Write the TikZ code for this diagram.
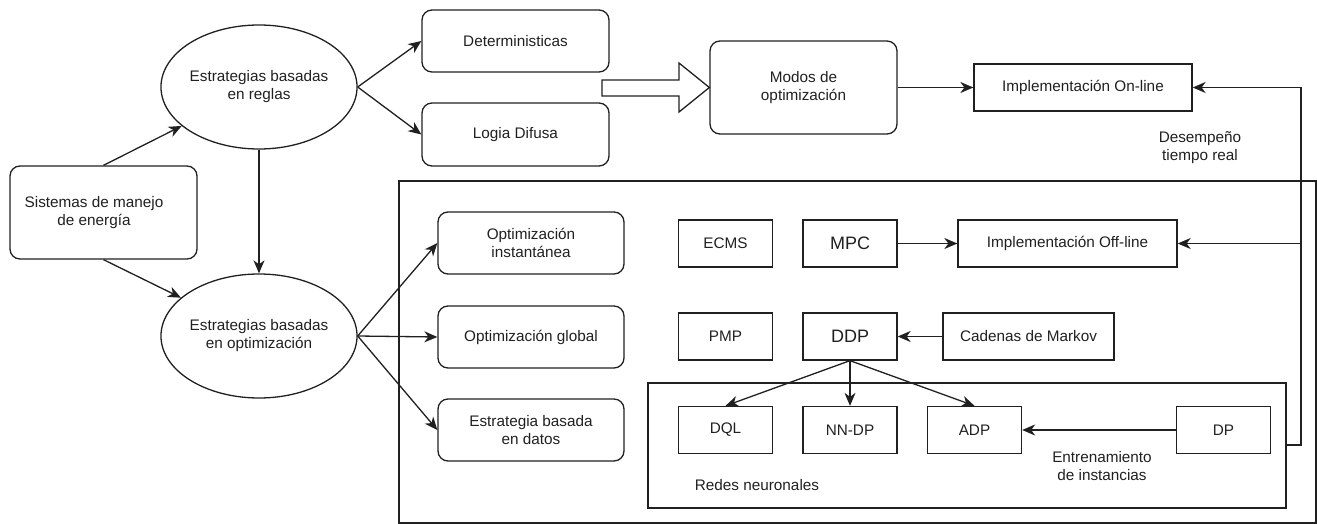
\documentclass[tikz,border=0pt]{standalone}
\usepackage{fontspec}
\setmainfont{Liberation Sans}
\usetikzlibrary{shapes.geometric,arrows.meta}
\definecolor{ink}{HTML}{202020}
\begin{document}
\begin{tikzpicture}[x=1pt,y=-1pt, line width=1.3pt,
  every node/.style={font=\fontsize{15.3}{18}\selectfont, text=ink},
  rbox/.style={draw=ink, rounded corners=10pt, minimum width=187pt, minimum height=62pt, align=center, inner sep=0pt},
  sbox/.style={draw=ink, minimum width=94pt, minimum height=47pt, inner sep=0pt, align=center},
  bigtxt/.style={font=\fontsize{18}{20}\selectfont},
  ell/.style={draw=ink, ellipse, minimum width=186pt, minimum height=124pt, inner sep=0pt, align=center},
  lbl/.style={align=center, inner sep=0pt},
  arr/.style={draw=ink, -{Stealth[length=13pt,width=11pt,inset=4pt]}},
  ln/.style={draw=ink}
]
\useasboundingbox (0,0) rectangle (1317,524);

% left part
\node[rbox, minimum height=93pt] (sis) at (103.5,212.5) {};
\node[lbl] (sistxt) at (94,212.5) {Sistemas de manejo\\de energía};
\node[ell] (e1) at (259,87) {Estrategias basadas\\en reglas};
\node[ell] (e2) at (259,336) {Estrategias basadas\\en optimización};

% top row
\node[rbox] (det) at (515.5,41) {Deterministicas};
\node[rbox, minimum height=63pt] (fuz) at (515.5,134.5) {Logia Difusa};
\node[rbox, minimum height=93pt] (modos) at (803.5,87.5) {Modos de\\optimización};
\node[sbox, minimum width=218pt] (on) at (1083,87.5) {Implementación On-line};
\node[lbl] (dtr) at (1200,148) {Desempeño\\tiempo real};

% outer container
\node[draw=ink, minimum width=917pt, minimum height=342pt, inner sep=0pt] (outer) at (857.5,352) {};

\node[rbox, minimum width=186pt] (inst) at (531,243) {Optimización\\instantánea};
\node[rbox, minimum width=186pt] (glob) at (531,337) {Optimización global};
\node[rbox, minimum width=186pt] (datos) at (531,430) {Estrategia basada\\en datos};

\node[sbox] (ecms) at (725.5,243.5) {ECMS};
\node[sbox, bigtxt] (mpc) at (850,243.5) {MPC};
\node[sbox, minimum width=219pt] (off) at (1067.5,243.5) {Implementación Off-line};

\node[sbox] (pmp) at (725.5,336.5) {PMP};
\node[sbox, bigtxt] (ddp) at (850,336.5) {DDP};
\node[sbox, minimum width=171pt] (markov) at (1028.5,336.5) {Cadenas de Markov};

% neural network container
\node[draw=ink, minimum width=638pt, minimum height=125pt, inner sep=0pt] (redes) at (967,445.5) {};
\node[lbl] (redestxt) at (757,485) {Redes neuronales};
\node[sbox] (dql) at (725.5,430) {DQL};
\node[sbox] (nndp) at (850,430) {NN-DP};
\node[sbox] (adp) at (974.5,430) {ADP};
\node[sbox] (dp) at (1223.5,430) {DP};
\node[lbl] (ent) at (1102,466) {Entrenamiento\\de instancias};

% connectors
\draw[arr] (sis.north) -- (e1);
\draw[arr] (sis.south) -- (e2);
\draw[arr] (e1) -- (e2);
\draw[arr] (e1.east) -- (det.west);
\draw[arr] (e1.east) -- (fuz.west);
\draw[arr] (e2.east) -- (inst.west);
\draw[arr] (e2.east) -- (glob.west);
\draw[arr] (e2.east) -- (datos.west);

% hollow block arrow
\draw[ln, line join=miter] (602,80) -- (679,80) -- (679,63) -- (modos.west) -- (679,112) -- (679,96) -- (602,96) -- cycle;

\draw[arr] (modos) -- (on);
\coordinate (fbc) at (1301,445);
\draw[arr] (redes.east |- fbc) -- (fbc) |- (on.east);
\draw[arr] (fbc |- off.east) -- (off.east);
\draw[arr] (mpc) -- (off);
\draw[arr] (markov) -- (ddp);
\draw[arr] (ddp.south) -- (dql.north);
\draw[arr] (ddp.south) -- (nndp.north);
\draw[arr] (ddp.south) -- (adp.north);
\draw[arr] (dp) -- (adp);
\end{tikzpicture}
\end{document}
